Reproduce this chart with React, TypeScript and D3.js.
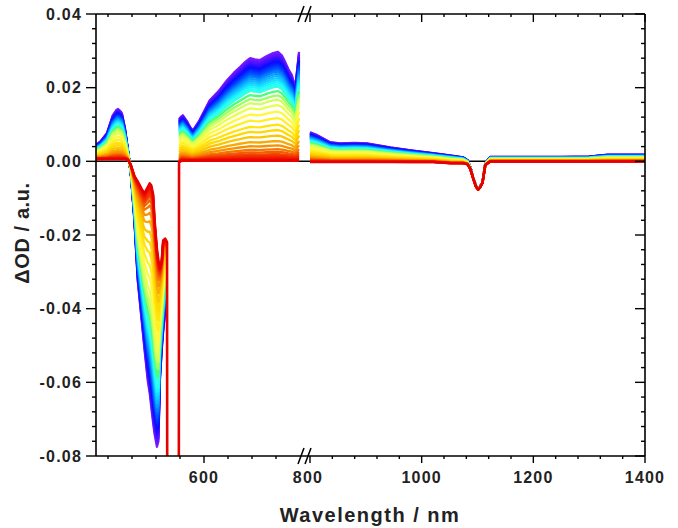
import React from "react";
import * as d3 from "d3";

// ---- data ----
// left (visible) segment, nm
const wlLeft = [375, 385, 398, 410, 418, 421, 426, 429, 435, 440, 444, 448, 455, 462, 470, 476, 483, 487, 490, 494, 497, 502, 505, 508, 512, 515, 519, 523, 524, 547, 548, 553, 556, 564, 571, 577, 590, 612, 630, 648, 662, 675, 686, 696, 706, 717, 730, 744, 754, 762, 769, 776, 783, 790, 794, 798];
// earliest delay spectrum (violet)
const earlyLeft: (number | null)[] = [0.0044, 0.0055, 0.0077, 0.0125, 0.014, 0.0142, 0.0136, 0.013, 0.0092, 0.0045, 0.0005, -0.004, -0.016, -0.0324, -0.043, -0.051, -0.0597, -0.063, -0.0665, -0.071, -0.074, -0.0775, -0.076, -0.0597, -0.051, -0.046, -0.041, -0.04, null, null, 0.0115, 0.0122, 0.0125, 0.011, 0.0093, 0.0084, 0.011, 0.0166, 0.019, 0.022, 0.024, 0.0256, 0.027, 0.028, 0.0277, 0.0275, 0.0285, 0.0294, 0.0297, 0.0288, 0.027, 0.025, 0.0234, 0.02, 0.0248, 0.0297];
// latest delay spectrum (red)
const lateLeft: (number | null)[] = [0.0006, 0.0006, 0.0006, 0.0006, 0.0006, 0.0006, 0.0006, 0.0006, 0.0006, 0.0005, 0.0, -0.0012, -0.004, -0.0055, -0.0075, -0.0087, -0.007, -0.006, -0.0065, -0.009, -0.016, -0.024, -0.027, -0.029, -0.027, -0.0215, -0.021, -0.022, -0.2, -0.2, -0.0003, 0.0002, 0.0002, 0.0002, 0.0002, 0.0002, 0.0002, 0.0002, 0.0002, 0.0002, 0.0002, 0.0002, 0.0002, 0.0002, 0.0002, 0.0002, 0.0002, 0.0002, 0.0002, 0.0002, 0.0002, 0.0002, 0.0002, 0.0002, 0.0002, 0.0002];

// right (NIR) segment, nm
const wlRight = [800, 813, 836, 854, 880, 902, 944, 980, 1021, 1051, 1074, 1082, 1087, 1092, 1097, 1101, 1105, 1109, 1114, 1123, 1160, 1200, 1250, 1300, 1333, 1370, 1400];
const earlyRight = [0.0079, 0.0071, 0.0052, 0.0049, 0.005, 0.0049, 0.0038, 0.003, 0.0022, 0.0016, 0.0011, 0.0003, -0.0015, -0.0044, -0.0065, -0.0075, -0.0068, -0.0057, -0.0005, 0.0012, 0.0012, 0.0012, 0.0012, 0.0013, 0.0018, 0.0018, 0.0018];
const lateRight = [-0.0002, -0.0002, -0.0002, -0.0002, -0.0002, -0.0002, -0.0002, -0.0002, -0.0002, -0.0005, -0.0005, -0.0008, -0.002, -0.0045, -0.0068, -0.0077, -0.007, -0.0058, -0.001, 0.0, 0.0, 0.0, 0.0, 0.0, 0.0, 0.0, 0.0];

// relative weight of the early spectrum for each delay (violet -> red)
const amplitudes = [1.0, 0.985, 0.97, 0.955, 0.94, 0.925, 0.91, 0.895, 0.88, 0.865, 0.85, 0.835, 0.82, 0.8, 0.78, 0.76, 0.74, 0.72, 0.7, 0.68, 0.64, 0.6, 0.56, 0.51, 0.45, 0.39, 0.33, 0.28, 0.23, 0.18, 0.14, 0.105, 0.08, 0.06, 0.045, 0.032, 0.022, 0.014, 0.007, 0.0];

// ticks
const yTicks = [0.04, 0.02, 0, -0.02, -0.04, -0.06, -0.08];
const yTickLabels = ["0.04", "0.02", "0.00", "-0.02", "-0.04", "-0.06", "-0.08"];
const xLeftMajor = [600];
const xLeftLabels = ["600"];
const xLeftMinor = [400, 450, 500, 550, 650, 700, 750];
const xRightMajor = [800, 1000, 1200, 1400];
const xRightLabels = ["800", "1000", "1200", "1400"];
const xRightMinor = [840, 880, 920, 960, 1040, 1080, 1120, 1160, 1240, 1280, 1320, 1360];

const FONT = "'Liberation Sans', Arial, Helvetica, sans-serif";

export default function App() {
  const W = 678, H = 528;
  const pL = 96, pR = 645, pT = 14, pB = 456;
  const xL = d3.scaleLinear().domain([375, 800]).range([96, 300]);
  const xR = d3.scaleLinear().domain([800, 1400]).range([310, 645]);
  const y = d3.scaleLinear().domain([-0.08, 0.04]).range([pB, pT]);

  const hue = d3.scaleLinear<number>()
    .domain([0, 0.05, 0.12, 0.25, 0.45, 0.58, 0.68, 0.8, 0.9, 1])
    .range([0, 15, 33, 50, 58, 80, 172, 205, 238, 266]);
  const light = d3.scaleLinear<number>()
    .domain([0, 0.3, 0.45, 0.6, 0.72, 0.85, 1])
    .range([0.47, 0.5, 0.62, 0.7, 0.55, 0.5, 0.55]);
  const color = (a: number) => (a === 0 ? "#e60000" : d3.hsl(hue(a), 1, light(a)).formatHex());

  const mix = (a: number, e: number | null, l: number | null) => {
    if (a === 0) return l;
    if (e === null || l === null) return null;
    return a * e + (1 - a) * l;
  };

  const lineL = d3.line<[number, number | null]>()
    .defined((d) => d[1] !== null)
    .x((d) => xL(d[0]))
    .y((d) => y(d[1] as number));
  const lineR = d3.line<[number, number | null]>()
    .defined((d) => d[1] !== null)
    .x((d) => xR(d[0]))
    .y((d) => y(d[1] as number));

  const curves = amplitudes.map((a) => {
    const left = wlLeft.map((w, i) => [w, mix(a, earlyLeft[i], lateLeft[i])] as [number, number | null]);
    const right = wlRight.map((w, i) => [w, mix(a, earlyRight[i], lateRight[i])] as [number, number | null]);
    return { a, dL: lineL(left) || "", dR: lineR(right) || "" };
  });

  const yMinor = d3.range(-0.08, 0.0401, 0.004).filter(
    (v) => !yTicks.some((t) => Math.abs(t - v) < 1e-6)
  );

  const axisStroke = "#000";
  const sw = 1.6;
  const breakX = [298, 305];

  return (
    <svg width={W} height={H} style={{ position: "absolute", left: 0, top: 0, background: "#fff" }}>
      <defs>
        <clipPath id="plotclip">
          <rect x={pL} y={pT} width={pR - pL} height={pB - pT} />
        </clipPath>
      </defs>
      <rect x={0} y={0} width={W} height={H} fill="#fff" />

      {/* zero line */}
      <line x1={pL} x2={pR} y1={y(0)} y2={y(0)} stroke="#000" strokeWidth={1.5} />

      <g clipPath="url(#plotclip)" fill="none" strokeLinejoin="round" strokeLinecap="butt">
        {curves.map((c, i) => (
          <g key={i} stroke={color(c.a)} strokeWidth={c.a === 0 ? 2.6 : 2.3}>
            <path d={c.dL} />
            <path d={c.dR} />
          </g>
        ))}
      </g>

      {/* frame */}
      <g stroke={axisStroke} strokeWidth={sw} fill="none">
        <line x1={pL} x2={pL} y1={pT} y2={pB} />
        <line x1={pR} x2={pR} y1={pT} y2={pB} />
        <line x1={pL} x2={pR} y1={pT} y2={pT} />
        <line x1={pL} x2={pR} y1={pB} y2={pB} />
      </g>

      {/* y ticks: left outward, right inward */}
      <g stroke={axisStroke} strokeWidth={1.4}>
        {yTicks.map((t, i) => (
          <g key={"ym" + i}>
            <line x1={pL - 10} x2={pL} y1={y(t)} y2={y(t)} />
            <line x1={pR - 10} x2={pR} y1={y(t)} y2={y(t)} />
          </g>
        ))}
        {yMinor.map((t, i) => (
          <g key={"yn" + i}>
            <line x1={pL - 4} x2={pL} y1={y(t)} y2={y(t)} />
            <line x1={pR - 4} x2={pR} y1={y(t)} y2={y(t)} />
          </g>
        ))}
      </g>

      {/* x ticks: bottom outward, top inward */}
      <g stroke={axisStroke} strokeWidth={1.4}>
        {xLeftMajor.map((t, i) => (
          <g key={"xlm" + i}>
            <line x1={xL(t)} x2={xL(t)} y1={pB} y2={pB + 7} />
            <line x1={xL(t)} x2={xL(t)} y1={pT} y2={pT + 8} />
          </g>
        ))}
        {xLeftMinor.map((t, i) => (
          <g key={"xln" + i}>
            <line x1={xL(t)} x2={xL(t)} y1={pB} y2={pB + 3} />
            <line x1={xL(t)} x2={xL(t)} y1={pT} y2={pT + 3} />
          </g>
        ))}
        {xRightMajor.map((t, i) => (
          <g key={"xrm" + i}>
            <line x1={xR(t)} x2={xR(t)} y1={pB} y2={pB + 7} />
            <line x1={xR(t)} x2={xR(t)} y1={pT} y2={pT + 8} />
          </g>
        ))}
        {xRightMinor.map((t, i) => (
          <g key={"xrn" + i}>
            <line x1={xR(t)} x2={xR(t)} y1={pB} y2={pB + 3} />
            <line x1={xR(t)} x2={xR(t)} y1={pT} y2={pT + 3} />
          </g>
        ))}
      </g>

      {/* axis break marks */}
      <g stroke="#000" strokeWidth={1.5}>
        {[pT, pB].map((yy, j) => (
          <g key={"br" + j}>
            {breakX.map((bx, k) => (
              <line key={k} x1={bx} y1={yy + 8} x2={bx + 6} y2={yy - 8} />
            ))}
          </g>
        ))}
      </g>

      {/* tick labels */}
      <g fontFamily={FONT} fontWeight="bold" fontSize={16} fill="#222" letterSpacing={1.2}>
        {yTicks.map((t, i) => (
          <text key={"yl" + i} x={82} y={y(t)} dy="0.36em" textAnchor="end">
            {yTickLabels[i]}
          </text>
        ))}
        {xLeftMajor.map((t, i) => (
          <text key={"xll" + i} x={xL(t)} y={483} textAnchor="middle">
            {xLeftLabels[i]}
          </text>
        ))}
        {xRightMajor.map((t, i) => (
          <text key={"xrl" + i} x={xR(t) - (i === 0 ? 2 : 0)} y={483} textAnchor="middle">
            {xRightLabels[i]}
          </text>
        ))}
      </g>

      {/* axis titles */}
      <text x={370} y={522} textAnchor="middle" fontFamily={FONT} fontWeight="bold" fontSize={20} fill="#222" letterSpacing={1.5}>
        Wavelength / nm
      </text>
      <text
        transform={`translate(29,233) rotate(-90)`}
        textAnchor="middle"
        fontFamily={FONT}
        fontWeight="bold"
        fontSize={20}
        fill="#222"
        letterSpacing={0.6}
      >
        ΔOD / a.u.
      </text>
    </svg>
  );
}
